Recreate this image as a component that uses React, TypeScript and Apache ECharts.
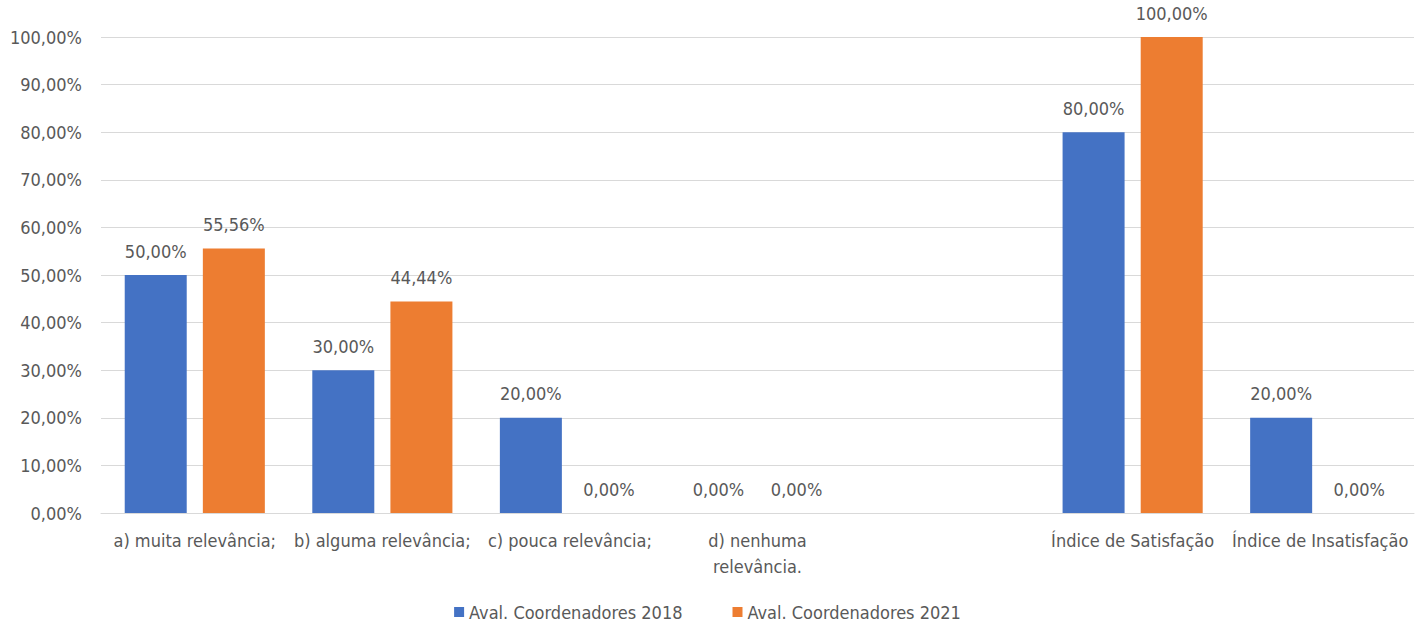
import React, { useEffect, useRef } from "react";
import * as echarts from "echarts";

const categories = [
  "a) muita relevância;",
  "b) alguma relevância;",
  "c) pouca relevância;",
  "d) nenhuma\nrelevância.",
  "",
  "Índice de Satisfação",
  "Índice de Insatisfação",
];
const series2018 = [50.0, 30.0, 20.0, 0.0, null, 80.0, 20.0];
const series2021 = [55.56, 44.44, 0.0, 0.0, null, 100.0, 0.0];
const yTicks = [0, 10, 20, 30, 40, 50, 60, 70, 80, 90, 100];
const seriesNames = ["Aval. Coordenadores 2018", "Aval. Coordenadores 2021"];

const FONT = "'Liberation Sans Narrow', 'DejaVu Sans Condensed', 'Noto Sans', sans-serif";
const TEXT = "#595959";
const fmt = (v: number) => v.toFixed(2).replace(".", ",") + "%";

export default function App() {
  const ref = useRef<HTMLDivElement>(null);
  useEffect(() => {
    if (!ref.current) return;
    const chart = echarts.init(ref.current, null, { renderer: "svg" });
    const label = {
      show: true,
      position: "top",
      distance: 15,
      color: TEXT,
      fontFamily: FONT,
      fontSize: 18,
      formatter: (p: any) => (p.value == null ? "" : fmt(p.value)),
    };
    chart.setOption({
      animation: false,
      textStyle: { fontFamily: FONT },
      grid: { left: 101, right: 1, top: 37, bottom: 111, containLabel: false },
      legend: {
        data: seriesNames,
        bottom: -2,
        left: "center",
        itemWidth: 10,
        itemHeight: 10,
        itemGap: 50,
        icon: "rect",
        textStyle: { color: TEXT, fontFamily: FONT, fontSize: 18 },
      },
      xAxis: {
        type: "category",
        data: categories,
        axisTick: { show: false },
        axisLine: { lineStyle: { color: "#d9d9d9", width: 1 } },
        axisLabel: {
          interval: 0,
          color: TEXT,
          fontFamily: FONT,
          fontSize: 18,
          margin: 14,
          lineHeight: 26,
        },
      },
      yAxis: {
        type: "value",
        min: yTicks[0],
        max: yTicks[yTicks.length - 1],
        interval: 10,
        axisLine: { show: false },
        axisTick: { show: false },
        splitLine: { lineStyle: { color: "#d9d9d9", width: 1 } },
        axisLabel: {
          color: TEXT,
          fontFamily: FONT,
          fontSize: 18,
          margin: 19,
          formatter: (v: number) => fmt(v),
        },
      },
      series: [
        {
          name: seriesNames[0],
          type: "bar",
          data: series2018,
          barWidth: 62,
          barGap: "26%",
          itemStyle: { color: "#4472C4" },
          label,
        },
        {
          name: seriesNames[1],
          type: "bar",
          data: series2021,
          barWidth: 62,
          itemStyle: { color: "#ED7D31" },
          label,
        },
      ],
    });
    return () => chart.dispose();
  }, []);
  return (
    <div
      ref={ref}
      style={{ position: "fixed", left: 0, top: 0, width: 1415, height: 624, background: "#fff" }}
    />
  );
}
